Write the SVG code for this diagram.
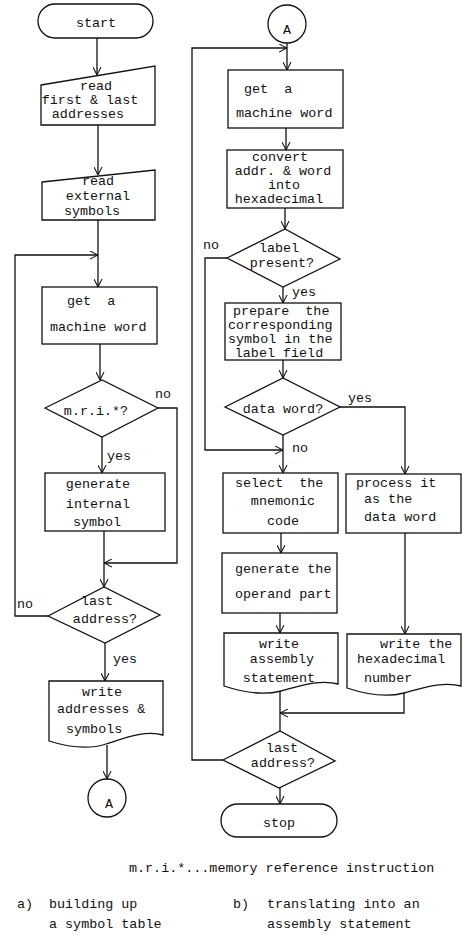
<svg xmlns="http://www.w3.org/2000/svg" width="462" height="935" viewBox="0 0 462 935">
<style>
.s{fill:#fff;stroke:#111;stroke-width:1.3}
.c{fill:none;stroke:#111;stroke-width:1.3}
text{font-family:"Liberation Mono","DejaVu Sans Mono",monospace;font-size:13.4px;fill:#111}
.m{text-anchor:middle}
</style>
<defs>
<marker id="a" viewBox="0 0 10 10" refX="10" refY="5" markerWidth="8" markerHeight="9" markerUnits="userSpaceOnUse" orient="auto">
<path d="M0,0 L10,5 L0,10" fill="none" stroke="#111" stroke-width="1.3"/>
</marker>
</defs>
<rect width="462" height="935" fill="#fff"/>
<g id="connectors">
<path class="c" d="M97,38 V75" marker-end="url(#a)"/>
<path class="c" d="M98,125 V175" marker-end="url(#a)"/>
<path class="c" d="M98,220 V287" marker-end="url(#a)"/>
<path class="c" d="M48,616 H15 V255 H98" marker-end="url(#a)"/>
<path class="c" d="M100,344 V380" marker-end="url(#a)"/>
<path class="c" d="M158,408 H177 V563 H104" marker-end="url(#a)"/>
<path class="c" d="M102,437 V473" marker-end="url(#a)"/>
<path class="c" d="M104,531 V587" marker-end="url(#a)"/>
<path class="c" d="M105,643 V681" marker-end="url(#a)"/>
<path class="c" d="M107,745 V779" marker-end="url(#a)"/>
<path class="c" d="M287,43 V70" marker-end="url(#a)"/>
<path class="c" d="M223,760 H192 V48 H287" marker-end="url(#a)"/>
<path class="c" d="M286,128 V150" marker-end="url(#a)"/>
<path class="c" d="M285,208 V229" marker-end="url(#a)"/>
<path class="c" d="M227,258 H205 V450 H283" marker-end="url(#a)"/>
<path class="c" d="M283,287 V303" marker-end="url(#a)"/>
<path class="c" d="M283,360 V378" marker-end="url(#a)"/>
<path class="c" d="M340,407 H405 V474" marker-end="url(#a)"/>
<path class="c" d="M283,435 V473" marker-end="url(#a)"/>
<path class="c" d="M405,533 V634" marker-end="url(#a)"/>
<path class="c" d="M281,533 V553" marker-end="url(#a)"/>
<path class="c" d="M280,613 V633" marker-end="url(#a)"/>
<path class="c" d="M280,690 V731"/>
<path class="c" d="M404,692 V713 H280" marker-end="url(#a)"/>
<path class="c" d="M280,788 V804" marker-end="url(#a)"/>
<text x="155" y="398">no</text>
<text x="107" y="460">yes</text>
<text x="17" y="608">no</text>
<text x="113" y="663">yes</text>
<text x="203" y="249">no</text>
<text x="292" y="296">yes</text>
<text x="348" y="402">yes</text>
<text x="292" y="452">no</text>
</g>
<g id="start">
<rect class="s" x="38" y="4" width="115" height="34" rx="17"/>
<text class="m" x="96" y="27">start</text>
</g>
<g id="read-addresses">
<polygon class="s" points="41,85 155,66 155,125 41,125"/>
<text class="m" x="96" y="90">read</text>
<text class="m" x="90" y="104">first &amp; last</text>
<text class="m" x="88" y="118">addresses</text>
</g>
<g id="read-symbols">
<polygon class="s" points="42,182 155,170 155,220 42,220"/>
<text class="m" x="98" y="185">read</text>
<text class="m" x="98" y="200">external</text>
<text class="m" x="92" y="215">symbols</text>
</g>
<g id="get-word-a">
<rect class="s" x="42" y="287" width="115" height="57"/>
<text x="67" y="305" xml:space="preserve">get  a</text>
<text x="50" y="331">machine word</text>
</g>
<g id="mri">
<polygon class="s" points="45,408 102,380 158,408 102,437"/>
<text class="m" x="96" y="415">m.r.i.*?</text>
</g>
<g id="gen-internal">
<rect class="s" x="45" y="473" width="120" height="58"/>
<text class="m" x="98" y="488">generate</text>
<text class="m" x="98" y="508">internal</text>
<text class="m" x="97" y="526">symbol</text>
</g>
<g id="last-a">
<polygon class="s" points="48,616 104,587 160,615 105,643"/>
<text class="m" x="97" y="605">last</text>
<text class="m" x="105" y="623">address?</text>
</g>
<g id="write-symbols">
<path class="s" d="M49,681 H163 V735 C145,730 125,738 106,744 C88,750 68,747 49,741 Z"/>
<text class="m" x="102" y="696">write</text>
<text x="57" y="713">addresses &amp;</text>
<text x="66" y="733">symbols</text>
</g>
<g id="conn-a-out">
<circle class="s" cx="107" cy="798" r="19"/>
<text class="m" x="109" y="808">A</text>
</g>
<g id="conn-a-in">
<circle class="s" cx="287" cy="24" r="19"/>
<text class="m" x="287" y="34">A</text>
</g>
<g id="get-word-b">
<rect class="s" x="228" y="70" width="115" height="58"/>
<text x="244" y="93" xml:space="preserve">get  a</text>
<text x="236" y="117">machine word</text>
</g>
<g id="convert">
<rect class="s" x="227" y="150" width="116" height="58"/>
<text class="m" x="280" y="161">convert</text>
<text class="m" x="283" y="175">addr. &amp; word</text>
<text class="m" x="284" y="189">into</text>
<text class="m" x="279" y="203">hexadecimal</text>
</g>
<g id="label-present">
<polygon class="s" points="227,258 285,229 340,259 283,287"/>
<text class="m" x="279" y="252">label</text>
<text class="m" x="282" y="267">present?</text>
</g>
<g id="prepare">
<rect class="s" x="225" y="303" width="116" height="57"/>
<text x="233" y="315" xml:space="preserve">prepare  the</text>
<text x="228" y="329">corresponding</text>
<text x="228" y="343">symbol in the</text>
<text class="m" x="279" y="357">label field</text>
</g>
<g id="data-word">
<polygon class="s" points="225,407 283,378 340,407 283,435"/>
<text class="m" x="283" y="413">data word?</text>
</g>
<g id="select">
<rect class="s" x="223" y="473" width="115" height="60"/>
<text x="235" y="487" xml:space="preserve">select  the</text>
<text class="m" x="283" y="505">mnemonic</text>
<text class="m" x="283" y="525">code</text>
</g>
<g id="process">
<rect class="s" x="346" y="474" width="115" height="59"/>
<text x="356" y="487">process it</text>
<text x="364" y="503">as the</text>
<text x="364" y="521">data word</text>
</g>
<g id="operand">
<rect class="s" x="222" y="553" width="115" height="60"/>
<text x="235" y="573">generate the</text>
<text x="235" y="598">operand part</text>
</g>
<g id="write-assembly">
<path class="s" d="M224,633 H338 V684 C320,679 300,686 281,691 C262,696 242,692 224,686 Z"/>
<text class="m" x="279" y="648">write</text>
<text class="m" x="282" y="663">assembly</text>
<text class="m" x="279" y="682">statement</text>
</g>
<g id="write-hex">
<path class="s" d="M347,634 H461 V686 C443,681 423,688 404,693 C385,698 365,694 347,688 Z"/>
<text x="380" y="648">write the</text>
<text x="357" y="663">hexadecimal</text>
<text x="364" y="682">number</text>
</g>
<g id="last-b">
<polygon class="s" points="223,760 280,731 335,761 279,788"/>
<text class="m" x="282" y="752">last</text>
<text class="m" x="283" y="767">address?</text>
</g>
<g id="stop">
<rect class="s" x="221" y="804" width="116" height="33" rx="16.5"/>
<text class="m" x="279" y="827">stop</text>
</g>
<g id="notes">
<text x="129" y="872">m.r.i.*...memory reference instruction</text>
<text x="17" y="908">a)</text>
<text x="49" y="908">building up</text>
<text x="49" y="928">a symbol table</text>
<text x="233" y="908">b)</text>
<text x="267" y="908">translating into an</text>
<text x="267" y="928">assembly statement</text>
</g>
</svg>
